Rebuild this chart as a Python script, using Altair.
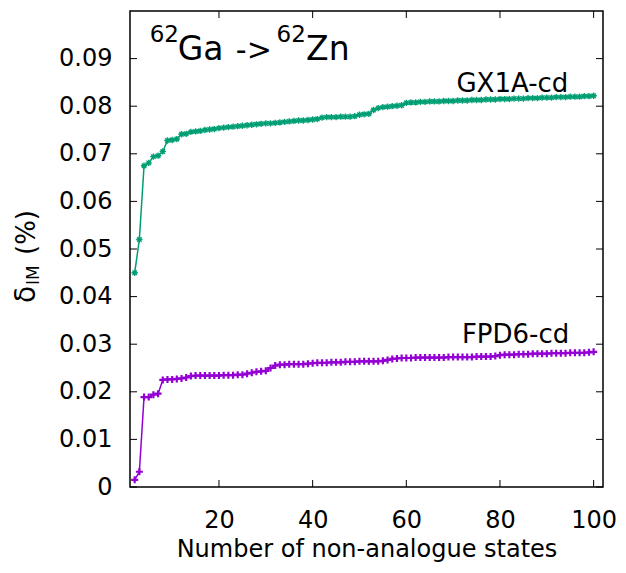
import altair as alt
import pandas as pd

# ---------------- data ----------------
states = list(range(2, 101))

gx1a = [
    0.0450, 0.0520, 0.0675, 0.0681, 0.0694, 0.0696, 0.0705, 0.0728, 0.0729, 0.0731,
    0.0741, 0.0742, 0.0746, 0.0747, 0.0748, 0.0750, 0.0751, 0.0752, 0.0754, 0.0755,
    0.0756, 0.0757, 0.0758, 0.0759, 0.0760, 0.0761, 0.0762, 0.0763, 0.0764, 0.0764,
    0.0765, 0.0766, 0.0767, 0.0768, 0.0769, 0.0770, 0.0770, 0.0771, 0.0772, 0.0773,
    0.0776, 0.0777, 0.0777, 0.0777, 0.0778, 0.0778, 0.0778, 0.0779, 0.0782, 0.0783,
    0.0784, 0.0792, 0.0796, 0.0798, 0.0799, 0.0800, 0.0801, 0.0802, 0.0807,
    0.0808, 0.0808, 0.0809, 0.0809, 0.0810, 0.0810, 0.0810, 0.0811, 0.0811, 0.0811,
    0.0812, 0.0812, 0.0812, 0.0813, 0.0813, 0.0813, 0.0814, 0.0814, 0.0814, 0.0815,
    0.0815, 0.0815, 0.0816, 0.0816, 0.0816, 0.0817, 0.0817, 0.0817, 0.0818, 0.0818,
    0.0818, 0.0819, 0.0819, 0.0819, 0.0820, 0.0820, 0.0820, 0.0821, 0.0821, 0.0822,
]

fpd6 = [
    0.0015, 0.0032, 0.0189, 0.0189, 0.0194, 0.0196, 0.0225, 0.0226, 0.0226, 0.0227,
    0.0228, 0.0230, 0.0233, 0.0234, 0.0234, 0.0234, 0.0234, 0.0234, 0.0234, 0.0235,
    0.0235, 0.0235, 0.0236, 0.0236, 0.0238, 0.0240, 0.0242, 0.0243, 0.0244, 0.0250,
    0.0255, 0.0257, 0.0257, 0.0258, 0.0258, 0.0258, 0.0258, 0.0259, 0.0260, 0.0261,
    0.0261, 0.0261, 0.0262, 0.0262, 0.0262, 0.0263, 0.0263, 0.0263, 0.0264, 0.0264,
    0.0264, 0.0264, 0.0264, 0.0265, 0.0267, 0.0269, 0.0270, 0.0271, 0.0271, 0.0271,
    0.0272, 0.0272, 0.0272, 0.0272, 0.0272, 0.0272, 0.0272, 0.0273, 0.0273, 0.0273,
    0.0273, 0.0273, 0.0273, 0.0274, 0.0274, 0.0274, 0.0274, 0.0275, 0.0277, 0.0278,
    0.0278, 0.0278, 0.0279, 0.0279, 0.0279, 0.0280, 0.0280, 0.0280, 0.0280, 0.0281,
    0.0281, 0.0281, 0.0281, 0.0282, 0.0282, 0.0282, 0.0282, 0.0283, 0.0284,
]

series_names = ["GX1A-cd", "FPD6-cd"]
series_colors = ["#009e73", "#9400d3"]

x_ticks = [20, 40, 60, 80, 100]
y_ticks = [0.0, 0.01, 0.02, 0.03, 0.04, 0.05, 0.06, 0.07, 0.08, 0.09]

# series labels (data coordinates)
label_text = ["GX1A-cd", "FPD6-cd"]
label_x = [94.6, 94.8]
label_y = [0.0830, 0.0302]

# title pieces "62Ga -> 62Zn" (data coordinates)
title_text = ["62", "Ga", "->", "62", "Zn"]
title_x = [5.2, 11.2, 23.6, 32.3, 38.6]
title_y = [0.0935, 0.0897, 0.0897, 0.0935, 0.0897]
title_size = [23, 33, 30, 23, 33]

# ---------------- layout ----------------
W, H = 473, 476
FONT = "DejaVu Sans"

df = pd.DataFrame({
    "n": states + states,
    "delta": gx1a + fpd6,
    "series": [series_names[0]] * len(states) + [series_names[1]] * len(states),
})

xs = alt.Scale(domain=[1, 102], nice=False, zero=False)
ys = alt.Scale(domain=[0, 0.1], nice=False, zero=False)
cs = alt.Scale(domain=series_names, range=series_colors)

x_axis = alt.Axis(values=x_ticks, format="d", ticks=False, tickSize=0, domain=False,
                  grid=False, labelFont=FONT, labelFontSize=24, labelColor="black",
                  labelPadding=21, title="Number of non-analogue states",
                  titleFont=FONT, titleFontSize=24, titleFontWeight="normal",
                  titleColor="black", titlePadding=5)
y_axis = alt.Axis(values=y_ticks,
                  labelExpr="datum.value == 0 ? '0' : format(datum.value, '.2f')",
                  ticks=False, tickSize=0, domain=False, grid=False,
                  labelFont=FONT, labelFontSize=24, labelColor="black",
                  labelPadding=18, title="")


def X(field):
    return alt.X(field, scale=xs, axis=x_axis)


def Y(field):
    return alt.Y(field, scale=ys, axis=y_axis)


lines = alt.Chart(df).mark_line(strokeWidth=1.5).encode(
    x=X("n:Q"), y=Y("delta:Q"),
    color=alt.Color("series:N", scale=cs, legend=None),
)

star_path = "M-1,0L1,0M0,-1L0,1M-0.7,-0.7L0.7,0.7M-0.7,0.7L0.7,-0.7"
plus_path = "M-1,0L1,0M0,-1L0,1"

pts_g = alt.Chart(df).transform_filter(alt.datum.series == series_names[0]).mark_point(
    shape=star_path, filled=False, size=40, strokeWidth=1.4, opacity=1
).encode(
    x=X("n:Q"), y=Y("delta:Q"),
    color=alt.Color("series:N", scale=cs, legend=None),
)
pts_p = alt.Chart(df).transform_filter(alt.datum.series == series_names[1]).mark_point(
    shape=plus_path, filled=False, size=49, strokeWidth=2.2, opacity=1
).encode(
    x=X("n:Q"), y=Y("delta:Q"),
    color=alt.Color("series:N", scale=cs, legend=None),
)

# inward ticks on all four sides
ytick_df = pd.DataFrame({"n": x_ticks[:1] * len(y_ticks), "delta": y_ticks})
xtick_df = pd.DataFrame({"n": x_ticks, "delta": y_ticks[:1] * len(x_ticks)})
tick_l = alt.Chart(ytick_df).mark_rule(color="black", strokeWidth=1).encode(
    y=Y("delta:Q"), x=alt.value(0), x2=alt.value(7))
tick_r = alt.Chart(ytick_df).mark_rule(color="black", strokeWidth=1).encode(
    y=Y("delta:Q"), x=alt.value(W - 7), x2=alt.value(W))
tick_b = alt.Chart(xtick_df).mark_rule(color="black", strokeWidth=1).encode(
    x=X("n:Q"), y=alt.value(H - 7), y2=alt.value(H))
tick_t = alt.Chart(xtick_df).mark_rule(color="black", strokeWidth=1).encode(
    x=X("n:Q"), y=alt.value(0), y2=alt.value(7))

lab_df = pd.DataFrame({"t": label_text, "n": label_x, "delta": label_y})
labels = alt.Chart(lab_df).mark_text(align="right", baseline="alphabetic", font=FONT,
                                     fontSize=26, color="black").encode(
    x=X("n:Q"), y=Y("delta:Q"), text="t:N")

ttl_df = pd.DataFrame({"t": title_text, "n": title_x, "delta": title_y, "s": title_size})
title = alt.Chart(ttl_df).mark_text(align="left", baseline="alphabetic", font=FONT,
                                    color="black").encode(
    x=X("n:Q"), y=Y("delta:Q"),
    text="t:N", size=alt.Size("s:Q", scale=None, legend=None))


# rotated y-axis title: δ_IM (%)
def ytitle(txt, px, py, fs):
    return alt.Chart(pd.DataFrame({"t": [txt]})).mark_text(
        angle=270, align="left", baseline="alphabetic", font=FONT, fontSize=fs,
        color="black").encode(x=alt.value(px), y=alt.value(py), text="t:N")


yt1 = ytitle("δ", -95, 292, 28)
yt2 = ytitle("IM", -91, 274, 17)
yt3 = ytitle("(%)", -95, 244, 26)

chart = alt.layer(
    lines, pts_g, pts_p, tick_l, tick_r, tick_b, tick_t, labels, title, yt1, yt2, yt3
).properties(
    width=W, height=H,
    autosize=alt.AutoSizeParams(type="none"),
    padding={"left": 122, "top": 3, "right": 15, "bottom": 78},
    background="white",
).configure_view(stroke="black", strokeWidth=1.5)

chart.save("out.html", embed_options={"renderer": "svg", "actions": False})
